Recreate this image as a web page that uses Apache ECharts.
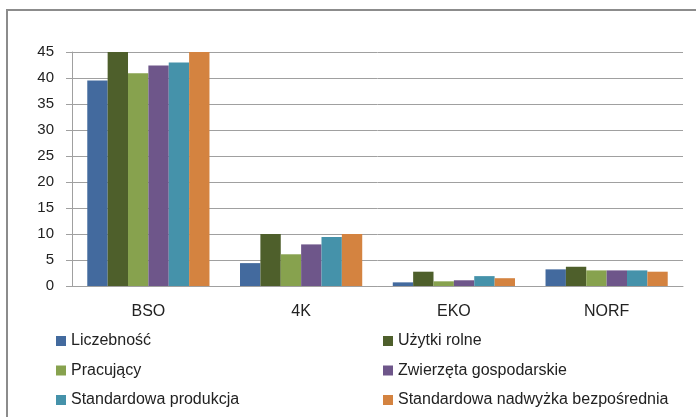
<!DOCTYPE html>
<html>
<head>
<meta charset="utf-8">
<script src="https://cdn.jsdelivr.net/npm/echarts@6/dist/echarts.min.js"></script>
<style>
  html, body { margin: 0; padding: 0; background: #fff; }
  #chart { width: 696px; height: 417px; }
</style>
</head>
<body>
<div id="chart"></div>
<script>
var categories = ['BSO', '4K', 'EKO', 'NORF']
var seriesNames = ['Liczebność', 'Użytki rolne', 'Pracujący', 'Zwierzęta gospodarskie', 'Standardowa produkcja', 'Standardowa nadwyżka bezpośrednia']
var liczebnosc = [39.5, 4.4, 0.7, 3.2]
var uzytki = [45, 10, 2.75, 3.7]
var pracujacy = [40.9, 6.1, 0.9, 3.0]
var zwierzeta = [42.4, 8.0, 1.1, 3.0]
var produkcja = [43, 9.4, 1.9, 3.0]
var nadwyzka = [45, 10, 1.5, 2.75]
var colors = ['#436a9e', '#4e5f2b', '#87a24e', '#6e568a', '#4592aa', '#d48340']

var font = '"Liberation Sans", Arial, sans-serif'
var chart = echarts.init(document.getElementById('chart'))

var values = [liczebnosc, uzytki, pracujacy, zwierzeta, produkcja, nadwyzka]
var series = seriesNames.map(function (name, i) {
  return {
    name: name,
    type: 'bar',
    data: values[i],
    barGap: 0,
    barCategoryGap: '20%',
    itemStyle: { color: colors[i] }
  }
})

var legendBase = {
  orient: 'vertical',
  top: 333,
  padding: 0,
  itemWidth: 10,
  itemHeight: 10,
  itemGap: 13.5,
  icon: 'rect',
  textStyle: { fontFamily: font, fontSize: 16, lineHeight: 16, color: '#222' }
}

var option = {
  animation: false,
  color: colors,
  grid: { left: 72, right: 13, top: 52, bottom: 131 },
  graphic: [{
    type: 'rect',
    shape: { x: 7, y: 10, width: 720, height: 440 },
    style: { fill: 'none', stroke: '#8c8c8c', lineWidth: 2 }
  }],
  legend: [
    Object.assign({}, legendBase, { left: 56, data: [seriesNames[0], seriesNames[2], seriesNames[4]] }),
    Object.assign({}, legendBase, { left: 383, data: [seriesNames[1], seriesNames[3], seriesNames[5]] })
  ],
  xAxis: {
    type: 'category',
    data: categories,
    axisLine: { lineStyle: { color: '#a0a0a0' } },
    axisTick: { length: 5, lineStyle: { color: '#a0a0a0' } },
    axisLabel: { fontFamily: font, fontSize: 16, color: '#222', margin: 18 }
  },
  yAxis: {
    type: 'value',
    min: 0,
    max: 45,
    interval: 5,
    axisLine: { show: true, lineStyle: { color: '#a0a0a0' } },
    axisTick: { show: true, length: 6, lineStyle: { color: '#a0a0a0' } },
    axisLabel: { fontFamily: font, fontSize: 15, color: '#222', margin: 18 },
    splitLine: { lineStyle: { color: '#a0a0a0' } }
  },
  series: series
}
chart.setOption(option)
</script>
</body>
</html>
